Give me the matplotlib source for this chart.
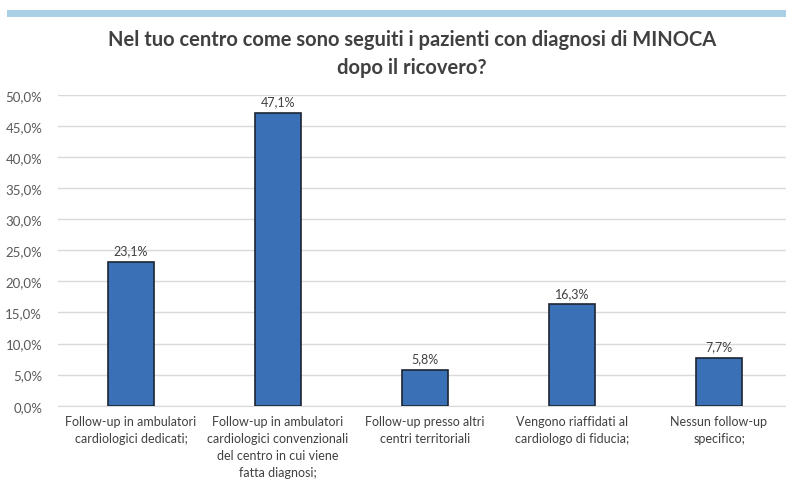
import matplotlib
matplotlib.use("Agg")
import matplotlib.pyplot as plt
from matplotlib.ticker import FuncFormatter

categories = [
    "Follow-up in ambulatori\ncardiologici dedicati;",
    "Follow-up in ambulatori\ncardiologici convenzionali\ndel centro in cui viene\nfatta diagnosi;",
    "Follow-up presso altri\ncentri territoriali",
    "Vengono riaffidati al\ncardiologo di fiducia;",
    "Nessun follow-up\nspecifico;",
]
values = [23.1, 47.1, 5.8, 16.3, 7.7]
yticks = [0, 5, 10, 15, 20, 25, 30, 35, 40, 45, 50]
title = "Nel tuo centro come sono seguiti i pazienti con diagnosi di MINOCA\ndopo il ricovero?"

plt.rcParams['font.family'] = ['Lato', 'DejaVu Sans']

fig = plt.figure(figsize=(7.86, 4.81), dpi=100)
W, H = 786, 481

# top stripe
fig.add_artist(plt.Rectangle((7 / W, 1 - 18 / H), 1, 7 / H, transform=fig.transFigure,
                             color="#a9d0e4", lw=0))

fig.text(412 / W, 1 - 54 / H, title, ha="center", va="center", fontsize=14.5,
         fontweight="bold", color="#404040", linespacing=1.55)

left, right = 57.5, 792.5
bottom, top = 406.7, 95.7
ax = fig.add_axes([left / W, (H - bottom) / H, (right - left) / W, (bottom - top) / H])

x = list(range(len(values)))
bars = ax.bar(x, values, width=0.316, color="#3a70b5", edgecolor="#1c2533", linewidth=1.2, zorder=3)
for xi, v in zip(x, values):
    ax.annotate(f"{v:.1f}%".replace(".", ","), (xi, v), xytext=(0, 4), textcoords="offset points",
                ha="center", va="bottom", fontsize=9, color="#404040")

ax.set_xlim(-0.5, 4.5)
ax.set_ylim(0, 50)
ax.set_yticks(yticks)
ax.yaxis.set_major_formatter(FuncFormatter(lambda v, p: f"{v:.1f}%".replace(".", ",")))
ax.set_xticks(x)
ax.set_xticklabels(categories, fontsize=9, color="#404040", linespacing=1.5)
ax.tick_params(axis="y", length=0, labelsize=9.5, labelcolor="#595959", pad=11)
ax.tick_params(axis="x", length=0, pad=7)
ax.grid(axis="y", color="#d9d9d9", linewidth=1, zorder=0)
for s in ax.spines.values():
    s.set_visible(False)
ax.spines["bottom"].set_visible(True)
ax.spines["bottom"].set_color("#d9d9d9")

fig.savefig("out.png", dpi=100)
